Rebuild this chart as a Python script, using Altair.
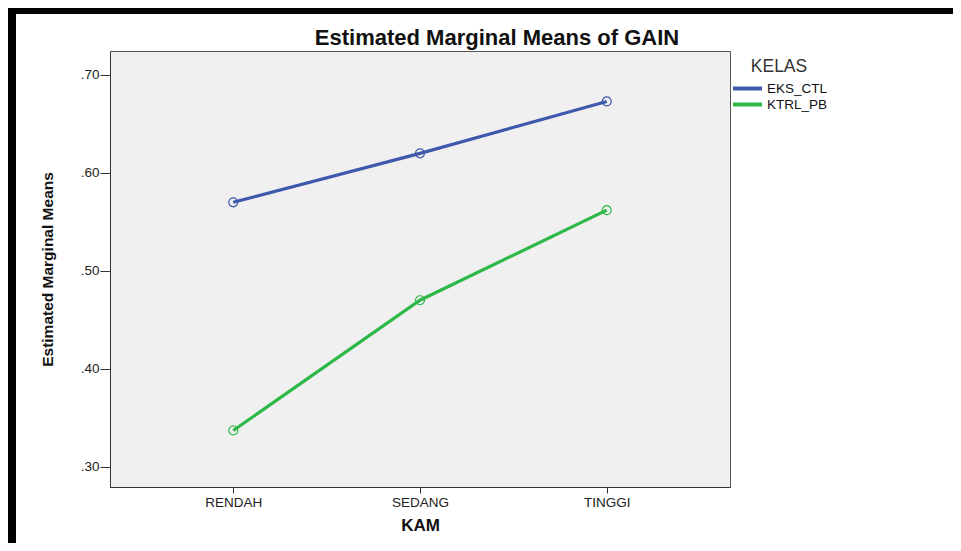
import altair as alt
import pandas as pd

kam = ["RENDAH", "SEDANG", "TINGGI"]
kelas = ["EKS_CTL", "KTRL_PB"]
eks_ctl = [0.570, 0.620, 0.673]
ktrl_pb = [0.337, 0.470, 0.562]
y_ticks = [0.30, 0.40, 0.50, 0.60, 0.70]
colors = ["#3E58AC", "#2EB848"]

rows = []
for name, vals in zip(kelas, [eks_ctl, ktrl_pb]):
    for k, v in zip(kam, vals):
        rows.append({"KAM": k, "KELAS": name, "mean": v})
df = pd.DataFrame(rows)

W, H = 620, 436
FONT = "Liberation Sans"

lines = alt.Chart(df).mark_line(
    strokeWidth=3.2,
    point=alt.OverlayMarkDef(filled=False, size=80, strokeWidth=1.2),
).encode(
    x=alt.X(
        "KAM:N", sort=kam,
        scale=alt.Scale(type="point", padding=0.66),
        axis=alt.Axis(
            title="KAM", labelAngle=0, tickSize=6, labelPadding=2,
            labelFontSize=13.5, labelFont=FONT, labelColor="#222",
            domainColor="#333", tickColor="#333", grid=False,
            titleFont=FONT, titleFontSize=17, titleFontWeight="bold",
            titleColor="#111", titlePadding=9,
        ),
    ),
    y=alt.Y(
        "mean:Q",
        scale=alt.Scale(domain=[0.2793, 0.7245], nice=False, zero=False),
        axis=alt.Axis(
            values=y_ticks, labelExpr="slice(format(datum.value, '.2f'), 1)",
            tickSize=10, labelPadding=1, labelFontSize=13.5, labelFont=FONT,
            labelColor="#222", domainColor="#333", tickColor="#333", grid=False,
            title="Estimated Marginal Means", titleFont=FONT,
            titleFontSize=15.5, titleFontWeight="bold", titleColor="#111",
            titlePadding=25,
        ),
    ),
    color=alt.Color(
        "KELAS:N",
        scale=alt.Scale(domain=kelas, range=colors),
        legend=alt.Legend(
            title="KELAS", orient="none", legendX=621, legendY=7,
            titleFont=FONT, titleFontSize=17.5, titleFontWeight="normal",
            titleColor="#333", titleAnchor="middle", titlePadding=5,
            symbolType="M-1,0H3.83", symbolSize=144, symbolStrokeWidth=4,
            labelOffset=20, labelFont=FONT, labelFontSize=13.5, labelColor="#111",
            rowPadding=0,
        ),
    ),
)

frame = alt.Data(values=[{"a": 1}])
left_bar = alt.Chart(frame).mark_rule(color="black", strokeWidth=8).encode(
    x=alt.value(-98), y=alt.value(-44), y2=alt.value(500)
)
top_bar = alt.Chart(frame).mark_rule(color="black", strokeWidth=6).encode(
    x=alt.value(-102), x2=alt.value(851), y=alt.value(-40)
)

chart = alt.layer(lines, left_bar, top_bar).properties(
    width=W, height=H,
    title=alt.TitleParams(
        "Estimated Marginal Means of GAIN", font=FONT, fontSize=22,
        fontWeight="bold", color="#111", anchor="middle", frame="group",
        dx=77, dy=70, offset=6, baseline="alphabetic",
    ),
    autosize=alt.AutoSizeParams(type="none"),
    padding={"left": 102, "top": 43, "right": 223, "bottom": 56},
    background="white",
).configure_view(
    fill="#f0f0f0", stroke="#555", strokeWidth=1
)

chart.save("out.html", embed_options={"renderer": "svg", "actions": False})
